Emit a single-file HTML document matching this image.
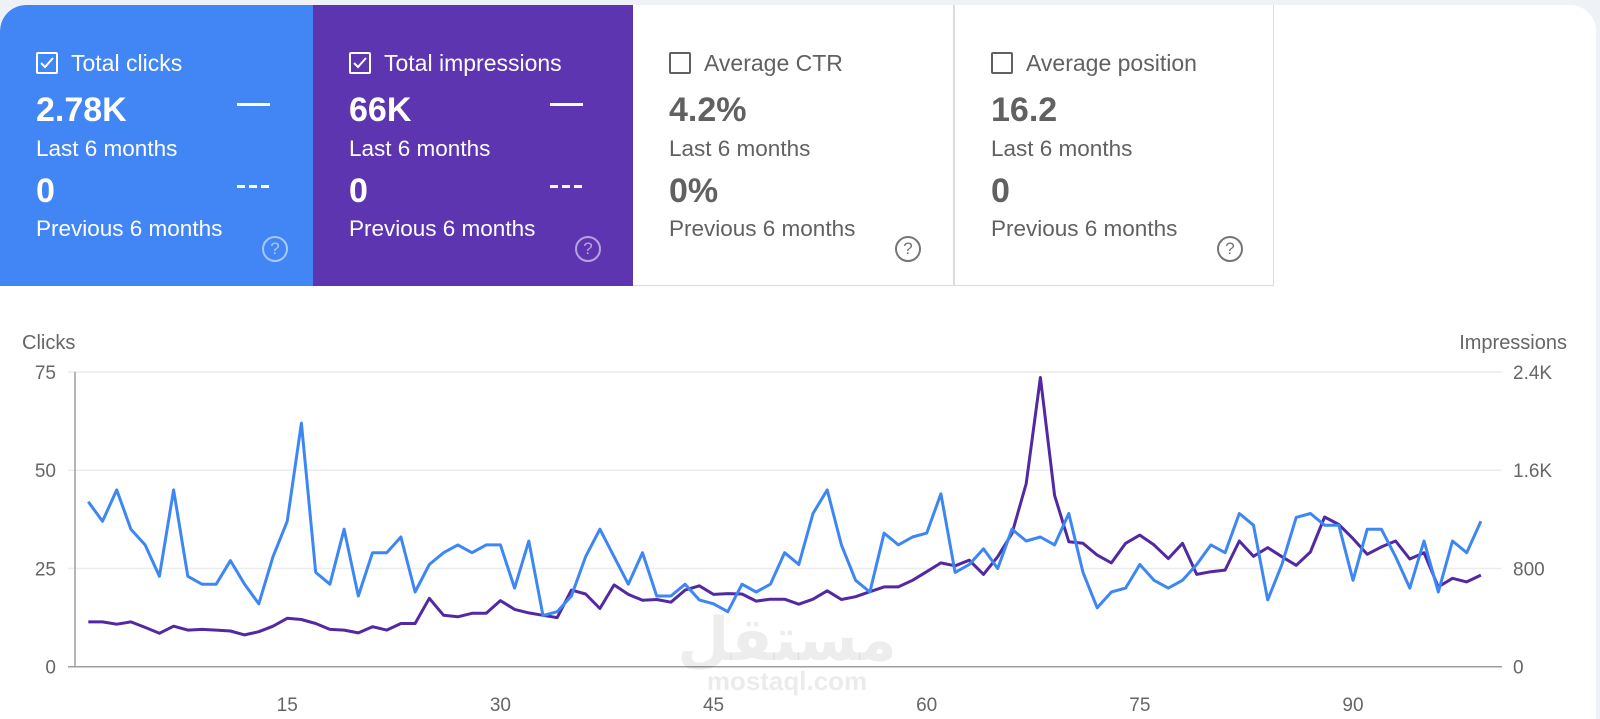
<!DOCTYPE html>
<html><head><meta charset="utf-8">
<style>
*{margin:0;padding:0;box-sizing:border-box}
body{width:1600px;height:719px;background:#eef2f7;font-family:"Liberation Sans",sans-serif;overflow:hidden;position:relative}
#panel{position:absolute;left:0;top:5px;width:1596px;height:714px;background:#fff;border-radius:26px 26px 0 0;overflow:hidden}
.card{position:absolute;top:0;height:281px;width:320px;color:#fff}
.card.plain{color:#616161;border-right:1px solid #dadce0;border-bottom:1px solid #dadce0}
.cb{position:absolute;left:36px;top:47px;width:22px;height:22px;border:2px solid #fff;border-radius:2px}
.plain .cb{border-color:#616161}
.title{position:absolute;left:71px;top:45px;font-size:23px}
.v1{position:absolute;left:36px;top:86px;font-size:34px;font-weight:bold}
.l1{position:absolute;left:36px;top:131px;font-size:22.5px}
.v2{position:absolute;left:36px;top:167px;font-size:34px;font-weight:bold}
.l2{position:absolute;left:36px;top:211px;font-size:22.5px}
.solid{position:absolute;left:237px;top:98px;width:33px;height:3px;background:#fff}
.dash{position:absolute;left:237px;top:180px;width:33px;height:3px;background:repeating-linear-gradient(90deg,#fff 0 8px,transparent 8px 12px)}
.help{position:absolute;left:262px;top:231px;width:26px;height:26px;border:2px solid rgba(255,255,255,.55);border-radius:50%;font-size:17px;line-height:22px;text-align:center;color:rgba(255,255,255,.55)}
.plain .help{border-color:#757575;color:#757575}
svg{position:absolute;left:0;top:0}
</style></head><body>
<div id="panel">
 <div class="card" style="left:0;background:#4285f4;border-top-left-radius:26px">
  <div class="cb"><svg width="18" height="18" viewBox="0 0 18 18" style="position:absolute;left:0;top:0"><path d="M3 9 L7 13 L15 4" stroke="#fff" stroke-width="2" fill="none"/></svg></div>
  <div class="title">Total clicks</div>
  <div class="v1">2.78K</div>
  <div class="solid"></div>
  <div class="l1">Last 6 months</div>
  <div class="v2">0</div>
  <div class="dash"></div>
  <div class="l2">Previous 6 months</div>
  <div class="help">?</div>
 </div>
 <div class="card" style="left:313px;background:#5e35b1">
  <div class="cb"><svg width="18" height="18" viewBox="0 0 18 18" style="position:absolute;left:0;top:0"><path d="M3 9 L7 13 L15 4" stroke="#fff" stroke-width="2" fill="none"/></svg></div>
  <div class="title">Total impressions</div>
  <div class="v1">66K</div>
  <div class="solid"></div>
  <div class="l1">Last 6 months</div>
  <div class="v2">0</div>
  <div class="dash"></div>
  <div class="l2">Previous 6 months</div>
  <div class="help">?</div>
 </div>
 <div class="card plain" style="left:633px;width:321px">
  <div class="cb"></div>
  <div class="title">Average CTR</div>
  <div class="v1">4.2%</div>
  <div class="l1">Last 6 months</div>
  <div class="v2">0%</div>
  <div class="l2">Previous 6 months</div>
  <div class="help">?</div>
 </div>
 <div class="card plain" style="left:954px;width:320px;border-left:1px solid #dadce0">
  <div class="cb"></div>
  <div class="title">Average position</div>
  <div class="v1">16.2</div>
  <div class="l1">Last 6 months</div>
  <div class="v2">0</div>
  <div class="l2">Previous 6 months</div>
  <div class="help">?</div>
 </div>
</div>
<svg id="chart" width="1600" height="719"></svg>
<script>
const clicks=[42,37,45,35,31,23,45,23,21,21,27,21,16,28,37,62,24,21,35,18,29,29,33,19,26,29,31,29,31,31,20,32,
13,14,18,28,35,28,21,29,18,18,21,17,16,14,21,19,21,29,26,39,45,31,22,19,34,31,33,34,44,24,26,30,25,35,
32,33,31,39,24,15,19,20,26,22,20,22,26,31,29,39,36,17,26,38,39,36,36,22,35,35,28,20,32,19,32,29,37];
const impressions=[365,365,346,365,320,272,330,298,304,298,291,259,285,330,394,384,352,304,298,275,326,298,352,352,557,419,406,435,435,538,467,438,
419,400,624,592,474,666,589,541,547,525,624,659,589,595,592,534,550,550,509,550,618,547,570,611,650,650,704,774,845,822,867,752,896,1085,
1491,2355,1395,1018,1005,909,845,1005,1072,992,880,1005,752,774,787,1024,899,970,896,826,934,1219,1158,1043,915,976,1024,877,928,650,720,691,746];
const leftTicks=[0,25,50,75];
const rightTickValues=[0,800,1600,2400];
const rightTickLabels=["0","800","1.6K","2.4K"];
const xTicks=[15,30,45,60,75,90];

const NS="http://www.w3.org/2000/svg";
const svg=document.getElementById('chart');
const X0=88.3,DX=14.21,Y0=666.7,H=294.7;
const xs=i=>X0+(i-1)*DX;
const yl=v=>Y0-v/75*H;
const yr=v=>Y0-v/2400*H;
function mk(tag,attrs){const e=document.createElementNS(NS,tag);for(const k in attrs)e.setAttribute(k,attrs[k]);svg.appendChild(e);return e;}

leftTicks.forEach((t,k)=>{
 const g=mk('line',{x1:68,x2:1502,y1:yl(t),y2:yl(t),stroke:t===0?'#9e9e9e':'#ececec','stroke-width':1.5});
 
 
 const tx=mk('text',{x:56,y:yl(t)+7,'text-anchor':'end','font-size':19,fill:'#666','font-family':'Liberation Sans, sans-serif'});
 tx.textContent=t;
 
 
});
rightTickValues.forEach((t,k)=>{
 const tx=mk('text',{x:1513,y:yr(t)+7,'font-size':19,fill:'#666','font-family':'Liberation Sans, sans-serif'});
 tx.textContent=rightTickLabels[k];
 
 
});
const ax=mk('line',{x1:75,x2:75,y1:372,y2:667,stroke:'#9e9e9e','stroke-width':1.5});


xTicks.forEach(t=>{
 const tx=mk('text',{x:xs(t),y:711,'text-anchor':'middle','font-size':19,fill:'#666','font-family':'Liberation Sans, sans-serif'});
 tx.textContent=t;
 
 
});
let t1=mk('text',{x:22,y:349,'font-size':20,fill:'#666','font-family':'Liberation Sans, sans-serif'});t1.textContent='Clicks';


let t2=mk('text',{x:1567,y:349,'text-anchor':'end','font-size':20,fill:'#666','font-family':'Liberation Sans, sans-serif'});t2.textContent='Impressions';



let w1=mk('text',{x:787,y:660,'text-anchor':'middle','font-size':60,'font-weight':'bold',fill:'rgba(0,0,0,0.07)','font-family':'DejaVu Sans, sans-serif'});w1.textContent='مستقل';


let w2=mk('text',{x:787,y:690,'text-anchor':'middle','font-size':26,'font-weight':'bold',fill:'rgba(0,0,0,0.08)','font-family':'Liberation Sans, sans-serif'});w2.textContent='mostaql.com';



const pImp=impressions.map((v,i)=>xs(i+1).toFixed(1)+','+yr(v).toFixed(1)).join(' ');
const l1=mk('polyline',{points:pImp,fill:'none',stroke:'#5229a3','stroke-width':3,'stroke-linejoin':'round'});


const pClk=clicks.map((v,i)=>xs(i+1).toFixed(1)+','+yl(v).toFixed(1)).join(' ');
const l2=mk('polyline',{points:pClk,fill:'none',stroke:'#3d87f5','stroke-width':3,'stroke-linejoin':'round'});


</script>
</body></html>
